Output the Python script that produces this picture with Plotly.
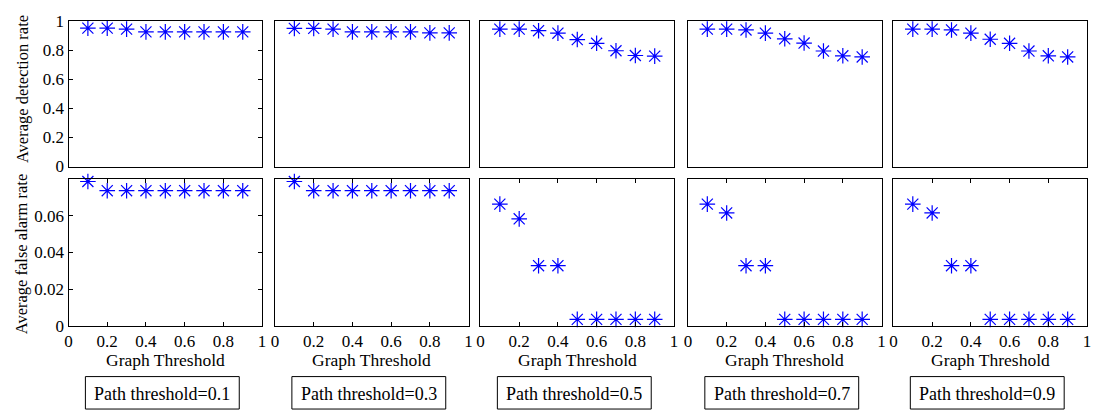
import plotly.graph_objects as go

# ---------------- data ----------------
graph_threshold = [0.1, 0.2, 0.3, 0.4, 0.5, 0.6, 0.7, 0.8, 0.9]
path_thresholds = ["0.1", "0.3", "0.5", "0.7", "0.9"]

det_p01 = [0.954, 0.954, 0.947, 0.928, 0.928, 0.928, 0.928, 0.928, 0.928]
det_p03 = [0.952, 0.952, 0.947, 0.928, 0.928, 0.928, 0.928, 0.921, 0.921]
det_p05 = [0.947, 0.947, 0.936, 0.919, 0.875, 0.849, 0.798, 0.765, 0.761]
det_p07 = [0.947, 0.947, 0.941, 0.919, 0.880, 0.851, 0.796, 0.763, 0.755]
det_p09 = [0.947, 0.947, 0.941, 0.919, 0.877, 0.849, 0.796, 0.763, 0.755]

fa_p01 = [0.0786, 0.0736, 0.0736, 0.0736, 0.0736, 0.0736, 0.0736, 0.0736, 0.0736]
fa_p03 = [0.0786, 0.0736, 0.0736, 0.0736, 0.0736, 0.0736, 0.0736, 0.0736, 0.0736]
fa_p05 = [0.0663, 0.0583, 0.0328, 0.0328, 0.0036, 0.0036, 0.0036, 0.0036, 0.0036]
fa_p07 = [0.0663, 0.0615, 0.0328, 0.0328, 0.0036, 0.0036, 0.0036, 0.0036, 0.0036]
fa_p09 = [0.0663, 0.0615, 0.0328, 0.0328, 0.0036, 0.0036, 0.0036, 0.0036, 0.0036]

det_series = [det_p01, det_p03, det_p05, det_p07, det_p09]
fa_series = [fa_p01, fa_p03, fa_p05, fa_p07, fa_p09]

x_tickvals = [0, 0.2, 0.4, 0.6, 0.8, 1]
x_ticktext = ["0", "0.2", "0.4", "0.6", "0.8", "1"]
det_tickvals = [0, 0.2, 0.4, 0.6, 0.8, 1]
det_ticktext = ["0", "0.2", "0.4", "0.6", "0.8", "1"]
fa_tickvals = [0, 0.02, 0.04, 0.06]
fa_ticktext = ["0", "0.02", "0.04", "0.06"]

# ---------------- layout geometry (pixels) ----------------
W, H = 1093, 420
FONT = "Liberation Serif"
panel_left = [65, 273, 480, 689, 896]
panel_w = 195
top_y = (13, 165)
bot_y = (178, 332)


def px_x(p):
    return p / W


def px_y(p):
    return 1 - p / H


fig = go.Figure()
layout = dict(
    width=W, height=H,
    margin=dict(l=0, r=0, t=0, b=0),
    paper_bgcolor="white", plot_bgcolor="white",
    showlegend=False,
    font=dict(family=FONT, size=17, color="black"),
)

marker = dict(symbol="asterisk-open", size=13, color="blue",
              line=dict(color="blue", width=1.2))

annotations = []
shapes = []

for i in range(5):
    xd = [px_x(panel_left[i]), px_x(panel_left[i] + panel_w)]
    n_top = 2 * i + 1
    n_bot = 2 * i + 2
    xa_t = "xaxis" if n_top == 1 else f"xaxis{n_top}"
    ya_t = "yaxis" if n_top == 1 else f"yaxis{n_top}"
    xa_b = f"xaxis{n_bot}"
    ya_b = f"yaxis{n_bot}"
    xr_t = "x" if n_top == 1 else f"x{n_top}"
    yr_t = "y" if n_top == 1 else f"y{n_top}"
    xr_b = f"x{n_bot}"
    yr_b = f"y{n_bot}"

    fig.add_trace(go.Scatter(x=graph_threshold, y=det_series[i], mode="markers",
                             marker=marker, xaxis=xr_t, yaxis=yr_t, cliponaxis=False))
    fig.add_trace(go.Scatter(x=graph_threshold, y=fa_series[i], mode="markers",
                             marker=marker, xaxis=xr_b, yaxis=yr_b, cliponaxis=False))

    common_x = dict(domain=xd, range=[0, 1], showgrid=False, zeroline=False,
                    showline=True, linecolor="black", linewidth=1, mirror="ticks",
                    fixedrange=True)
    layout[xa_t] = dict(common_x, anchor=yr_t, ticks="", showticklabels=False)
    layout[xa_b] = dict(common_x, anchor=yr_b, ticks="inside", ticklen=4,
                        tickcolor="black", tickvals=x_tickvals, ticktext=x_ticktext,
                        tickfont=dict(family=FONT, size=17, color="black"))

    common_y = dict(showgrid=False, zeroline=False, showline=True, linecolor="black",
                    linewidth=1, mirror="ticks", fixedrange=True)
    yt = dict(common_y, domain=[px_y(top_y[1]), px_y(top_y[0])], range=[0, 1],
              anchor=xr_t)
    yb = dict(common_y, domain=[px_y(bot_y[1]), px_y(bot_y[0])], range=[0, 0.08],
              anchor=xr_b)
    if i == 0:
        yt.update(ticks="inside", ticklen=4, tickcolor="black",
                  tickvals=det_tickvals, ticktext=det_ticktext,
                  tickfont=dict(family=FONT, size=17, color="black"))
        yb.update(ticks="inside", ticklen=4, tickcolor="black",
                  tickvals=fa_tickvals, ticktext=fa_ticktext,
                  tickfont=dict(family=FONT, size=17, color="black"))
    else:
        yt.update(ticks="", showticklabels=False)
        yb.update(ticks="", showticklabels=False)
    layout[ya_t] = yt
    layout[ya_b] = yb

    cx = panel_left[i] + panel_w / 2
    annotations.append(dict(text="Graph Threshold", x=px_x(cx), y=px_y(368),
                            xref="paper", yref="paper", showarrow=False,
                            xanchor="center", yanchor="middle",
                            font=dict(family=FONT, size=17.5, color="black")))
    bx = cx - 3
    bw = 155
    shapes.append(dict(type="rect", xref="paper", yref="paper",
                       x0=px_x(bx - bw / 2), x1=px_x(bx + bw / 2),
                       y0=px_y(419), y1=px_y(385),
                       line=dict(color="black", width=1), fillcolor="white"))
    annotations.append(dict(text=f"Path threshold={path_thresholds[i]}",
                            x=px_x(bx), y=px_y(403), xref="paper", yref="paper",
                            showarrow=False, xanchor="center", yanchor="middle",
                            font=dict(family=FONT, size=18, color="black")))

annotations.append(dict(text="Average detection rate", x=px_x(18),
                        y=px_y((top_y[0] + top_y[1]) / 2 - 5), xref="paper", yref="paper",
                        showarrow=False, textangle=-90, xanchor="center", yanchor="middle",
                        font=dict(family=FONT, size=16.5, color="black")))
annotations.append(dict(text="Average false alarm rate", x=px_x(18),
                        y=px_y((bot_y[0] + bot_y[1]) / 2 + 2), xref="paper", yref="paper",
                        showarrow=False, textangle=-90, xanchor="center", yanchor="middle",
                        font=dict(family=FONT, size=16.5, color="black")))

layout["annotations"] = annotations
layout["shapes"] = shapes
fig.update_layout(**layout)

fig.write_html("out.html")
